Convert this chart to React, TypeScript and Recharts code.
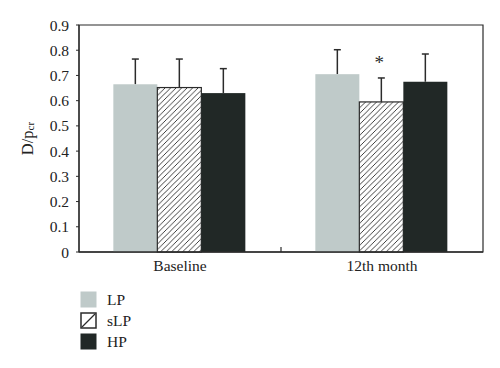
import {
  BarChart,
  Bar,
  XAxis,
  YAxis,
  Legend,
  ReferenceArea,
} from "recharts";

const categories = ["Baseline", "12th month"];
const lpValues = [0.665, 0.705];
const lpErrors = [0.1, 0.097];
const slpValues = [0.652, 0.595];
const slpErrors = [0.113, 0.095];
const hpValues = [0.63, 0.675];
const hpErrors = [0.097, 0.11];
const slpMarks = ["", "*"];
const yTicks = [0, 0.1, 0.2, 0.3, 0.4, 0.5, 0.6, 0.7, 0.8, 0.9];
const yTickLabels = ["0", "0.1", "0.2", "0.3", "0.4", "0.5", "0.6", "0.7", "0.8", "0.9"];

const FONT = '"Liberation Serif", "DejaVu Serif", serif';
const INK = "#2b2b2b";
const LP_FILL = "#bfcac9";
const HP_FILL = "#212826";

const chartData = categories.map((name, i) => ({
  name,
  lp: lpValues[i],
  lpErr: lpErrors[i],
  slp: slpValues[i],
  slpErr: slpErrors[i],
  slpMark: slpMarks[i],
  hp: hpValues[i],
  hpErr: hpErrors[i],
}));

const legendItems = [
  { label: "LP", kind: "lp" },
  { label: "sLP", kind: "slp" },
  { label: "HP", kind: "hp" },
];

// bar with a one-sided (upward) error whisker, scaled from the bar's own height
const makeShape =
  (valueKey: string, errKey: string, fill: string, stroke?: string, markKey?: string) =>
  (props: any) => {
    const { x, y, width, height, payload } = props;
    const value = payload[valueKey];
    const pxPerUnit = value ? height / value : 0;
    const errTop = y - payload[errKey] * pxPerUnit;
    const cx = x + width / 2;
    const mark = markKey ? payload[markKey] : "";
    return (
      <g>
        <line x1={cx} x2={cx} y1={y} y2={errTop} stroke={INK} strokeWidth={1.5} />
        <line x1={cx - 3.5} x2={cx + 3.5} y1={errTop} y2={errTop} stroke={INK} strokeWidth={1.5} />
        <rect
          x={x}
          y={y}
          width={width}
          height={height}
          fill={fill}
          stroke={stroke ?? "none"}
          strokeWidth={stroke ? 1.2 : 0}
        />
        {mark ? (
          <text
            x={cx - 2}
            y={errTop - 9}
            textAnchor="middle"
            fontFamily={FONT}
            fontSize={19}
            fill={INK}
          >
            {mark}
          </text>
        ) : null}
      </g>
    );
  };

const XTick = (props: any) => {
  const { x, y, payload, index } = props;
  return (
    <g>
      <text x={x} y={y} dy={19} textAnchor="middle" fontFamily={FONT} fontSize={15.5} fill="#222">
        {payload.value}
      </text>
      {index === 0 ? (
        <line
          x1={x + payload.offset}
          x2={x + payload.offset}
          y1={y}
          y2={y - 5}
          stroke={INK}
          strokeWidth={1.2}
        />
      ) : null}
    </g>
  );
};

const YLabel = (props: any) => {
  const { viewBox } = props;
  const cx = viewBox.x + 27;
  const cy = viewBox.y + viewBox.height / 2;
  return (
    <text
      x={cx}
      y={cy}
      transform={`rotate(-90, ${cx}, ${cy})`}
      textAnchor="middle"
      dominantBaseline="central"
      fontFamily={FONT}
      fontSize={16.5}
      fill="#222"
    >
      D/p
      <tspan fontSize={11} dy={3}>
        cr
      </tspan>
    </text>
  );
};

const Swatch = ({ kind }: { kind: string }) => (
  <svg width={17} height={17} style={{ display: "block" }}>
    {kind === "slp" ? (
      <g>
        <rect x={1} y={1} width={15} height={15} fill="#fff" stroke={INK} strokeWidth={1.5} />
        <line x1={2} y1={15} x2={15} y2={2} stroke={INK} strokeWidth={1.3} />
      </g>
    ) : (
      <rect x={0.5} y={0.5} width={16} height={16} fill={kind === "lp" ? LP_FILL : HP_FILL} />
    )}
  </svg>
);

const LegendBox = () => (
  <div style={{ height: 72, paddingLeft: 80, paddingTop: 7, boxSizing: "border-box" }}>
    {legendItems.map((item) => (
      <div
        key={item.label}
        style={{ display: "flex", alignItems: "center", height: 21, fontFamily: FONT, fontSize: 15.5, color: "#222" }}
      >
        <Swatch kind={item.kind} />
        <span style={{ marginLeft: 10 }}>{item.label}</span>
      </div>
    ))}
  </div>
);

const App = () => {
  return (
    <div style={{ position: "absolute", left: 0, top: 0, background: "#fff" }}>
      <BarChart
        width={500}
        height={368}
        data={chartData}
        margin={{ top: 25, right: 17, bottom: 14, left: 0 }}
        barCategoryGap="17%"
        barGap={0}
      >
        <defs>
          <pattern id="hatch" patternUnits="userSpaceOnUse" width={5.5} height={5.5}>
            <rect width={5.5} height={5.5} fill="#fff" />
            <path d="M-1,1 L1,-1 M0,5.5 L5.5,0 M4.5,6.5 L6.5,4.5" stroke={INK} strokeWidth={0.9} />
          </pattern>
        </defs>
        <ReferenceArea y1={0} y2={0.9} fill="none" stroke={INK} strokeWidth={1.2} ifOverflow="visible" />
        <XAxis
          dataKey="name"
          height={30}
          tickSize={0}
          tickMargin={0}
          tickLine={false}
          axisLine={{ stroke: INK, strokeWidth: 1.5 }}
          tick={<XTick />}
          interval={0}
        />
        <YAxis
          width={79}
          domain={[0, 0.9]}
          ticks={yTicks}
          tickFormatter={(v: number) => yTickLabels[yTicks.indexOf(v)] ?? String(v)}
          tickSize={3}
          tickMargin={7}
          tickLine={{ stroke: INK }}
          axisLine={{ stroke: INK, strokeWidth: 1.2 }}
          tick={{ fontFamily: FONT, fontSize: 15.5, fill: "#222" }}
          label={{ content: YLabel }}
        />
        <Legend verticalAlign="bottom" align="left" content={<LegendBox />} />
        <Bar
          dataKey="lp"
          name="LP"
          fill={LP_FILL}
          isAnimationActive={false}
          shape={makeShape("lp", "lpErr", LP_FILL)}
        />
        <Bar
          dataKey="slp"
          name="sLP"
          fill="url(#hatch)"
          isAnimationActive={false}
          shape={makeShape("slp", "slpErr", "url(#hatch)", INK, "slpMark")}
        />
        <Bar
          dataKey="hp"
          name="HP"
          fill={HP_FILL}
          isAnimationActive={false}
          shape={makeShape("hp", "hpErr", HP_FILL)}
        />
      </BarChart>
    </div>
  );
};

export default App;
